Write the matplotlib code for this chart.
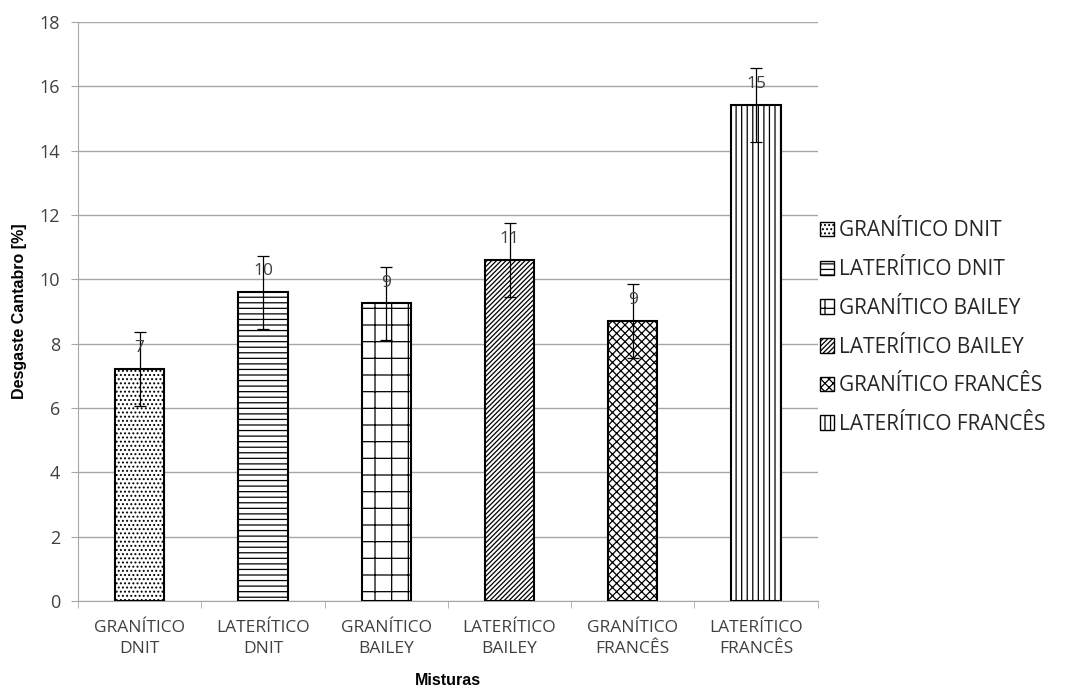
import matplotlib.pyplot as plt
import numpy as np
from matplotlib.patches import Patch

plt.rcParams['font.family'] = ['Open Sans', 'DejaVu Sans']
plt.rcParams['hatch.linewidth'] = 0.9

# dados
misturas = ['GRANÍTICO\nDNIT', 'LATERÍTICO\nDNIT', 'GRANÍTICO\nBAILEY',
            'LATERÍTICO\nBAILEY', 'GRANÍTICO\nFRANCÊS', 'LATERÍTICO\nFRANCÊS']
legenda = ['GRANÍTICO DNIT', 'LATERÍTICO DNIT', 'GRANÍTICO BAILEY',
           'LATERÍTICO BAILEY', 'GRANÍTICO FRANCÊS', 'LATERÍTICO FRANCÊS']
desgaste = [7.21, 9.60, 9.25, 10.60, 8.70, 15.43]
erro = [1.15, 1.13, 1.15, 1.15, 1.16, 1.15]
rotulos = ['7', '10', '9', '11', '9', '15']

hatches = ['....', '---', '+', '/' * 7, 'xxxx', '|||']

fig = plt.figure(figsize=(10.72, 6.9), dpi=100)
ax = fig.add_axes([0.0728, 0.129, 0.690, 0.839])

x = np.arange(len(misturas))
bars = ax.bar(x, desgaste, width=0.4, color='white', edgecolor='black',
              linewidth=1.5, zorder=3)
for b, h in zip(bars, hatches):
    b.set_hatch(h)
ax.errorbar(x, desgaste, yerr=erro, fmt='none', ecolor='black',
            elinewidth=0.9, capsize=4.5, capthick=0.9, zorder=4)

for xi, v, r in zip(x, desgaste, rotulos):
    ax.text(xi, v + 0.65, r, ha='center', va='center', fontsize=12.5,
            color='#404040', zorder=5)

ax.set_xlim(-0.5, 5.5)
ax.set_ylim(0, 18)
ax.set_yticks(np.arange(0, 19, 2))
ax.yaxis.grid(True, color='#a6a6a6', linewidth=1)
ax.set_axisbelow(True)
ax.set_xticks(x)
ax.set_xticklabels(misturas, fontsize=12.5, color='#404040', linespacing=1.35)
ax.set_xticks(np.arange(-0.5, 6, 1), minor=True)
ax.tick_params(axis='x', which='major', length=0, pad=14)
ax.tick_params(axis='x', which='minor', length=5, color='#a6a6a6')
ax.tick_params(axis='y', length=5, color='#a6a6a6', labelsize=13,
               labelcolor='#404040', pad=8)

for s in ['top', 'right']:
    ax.spines[s].set_visible(False)
for s in ['left', 'bottom']:
    ax.spines[s].set_color('#a6a6a6')

ax.set_ylabel('Desgaste Cantabro [%]', fontsize=11.5, fontweight='bold',
              family=['Liberation Sans Narrow', 'Liberation Sans', 'DejaVu Sans'],
              labelpad=9)
ax.set_xlabel('Misturas', fontsize=11.5, fontweight='bold',
              family=['Liberation Sans Narrow', 'Liberation Sans', 'DejaVu Sans'],
              labelpad=12)

handles = [Patch(facecolor='white', edgecolor='black', hatch=h, linewidth=1)
           for h in hatches]
leg = fig.legend(handles, legenda, loc='center left',
                 bbox_to_anchor=(0.747, 0.525), frameon=False, fontsize=15,
                 handlelength=0.7, handleheight=0.7, handletextpad=0.25,
                 labelspacing=0.85)
for t in leg.get_texts():
    t.set_color('#262626')

fig.savefig('out.png', dpi=100)
